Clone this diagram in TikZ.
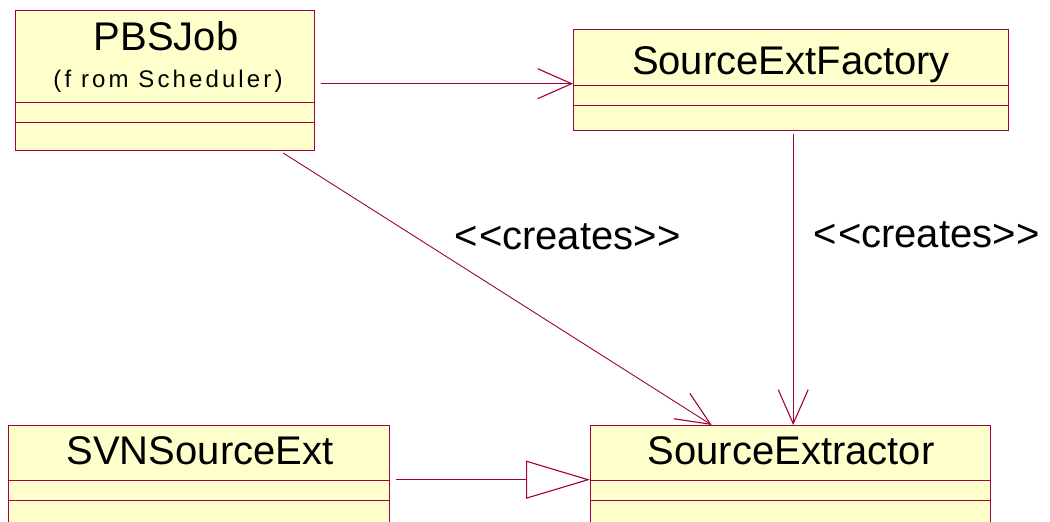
\documentclass[tikz,border=0pt]{standalone}
\usepackage{fontspec}
\setmainfont{Liberation Sans}
\usetikzlibrary{arrows.meta}
\definecolor{umlline}{RGB}{160,0,60}
\definecolor{umlfill}{RGB}{255,255,204}
\begin{document}
\begin{tikzpicture}[x=1pt,y=-1pt,
  classbox/.style={draw=umlline, fill=umlfill, line width=1.4pt, anchor=north west, inner sep=0pt},
  sepline/.style={draw=umlline, line width=1pt},
  title/.style={font=\fontsize{40}{44}\selectfont, anchor=base, inner sep=0pt},
  sub/.style={font=\fontsize{24}{27}\selectfont\addfontfeature{LetterSpace=13}, anchor=base, inner sep=0pt},
  lbl/.style={font=\fontsize{40}{44}\selectfont, anchor=base, inner sep=0pt},
  assoc/.style={draw=umlline, line width=0.9pt, -{Straight Barb[length=34pt,width=30pt,line width=1.1pt]}},
  gen/.style={draw=umlline, line width=0.9pt, -{Triangle[open,length=64pt,width=38pt,line width=1.1pt]}}
]
\clip (0,0) rectangle (1050,522);
\fill[white] (0,0) rectangle (1050,522);

% class boxes
\node[classbox, minimum width=299pt, minimum height=140pt] (pbs) at (15,10) {};
\node[classbox, minimum width=435pt, minimum height=101pt] (fac) at (573,29) {};
\node[classbox, minimum width=381pt, minimum height=108pt] (svn) at (8,425) {};
\node[classbox, minimum width=400pt, minimum height=108pt] (ext) at (590,425) {};

% compartments
\draw[sepline] (15,102) -- (314,102) (15,122) -- (314,122);
\draw[sepline] (573,85) -- (1008,85) (573,105) -- (1008,105);
\draw[sepline] (8,480) -- (389,480) (8,500) -- (389,500);
\draw[sepline] (590,480) -- (990,480) (590,500) -- (990,500);

% titles
\node[title] (pbst) at (166,50) {PBSJob};
\node[sub] (pbss) at (168,87) {(f rom Scheduler)};
\node[title] (fact) at (791,74) {SourceExtFactory};
\node[title] (svnt) at (200,464) {SVNSourceExt};
\node[title] (extt) at (791,464) {SourceExtractor};

% connectors
\draw[assoc, shorten <=6pt] ([yshift=-3pt]pbs.east) -- ([yshift=-3pt]pbs.east -| fac.west);
\draw[assoc, shorten <=3pt] ([xshift=115.5pt]pbs.south) -- ([xshift=-79pt]ext.north);
\draw[assoc, shorten <=3pt] ([xshift=2pt]fac.south) -- ([xshift=2pt]fac.south |- ext.north);
\draw[gen, shorten <=6pt] (svn.east) -- (ext.west);

% labels
\node[lbl] (c1) at (568,249) {<\kern1pt<creates>\kern1pt>};
\node[lbl] (c2) at (927,247) {<\kern1pt<creates>\kern1pt>};
\end{tikzpicture}
\end{document}
